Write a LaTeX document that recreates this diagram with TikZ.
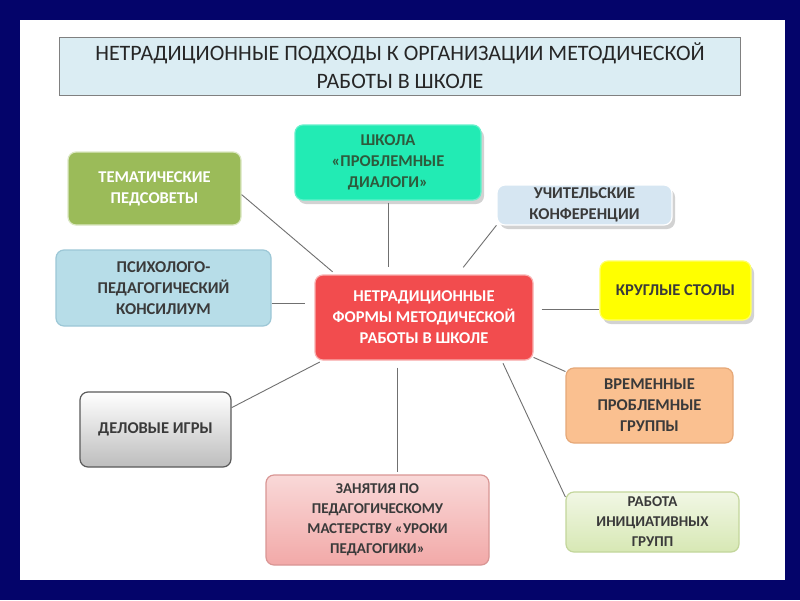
\documentclass[tikz,border=0pt]{standalone}
\usepackage{fontspec}
\setmainfont{Carlito}
\usetikzlibrary{shadows,positioning}
\definecolor{SchoolNavy}{HTML}{04046A}
\definecolor{SchoolInk}{HTML}{3A3A3A}
\definecolor{TitleFill}{HTML}{DBEDF3}
\definecolor{TitleEdge}{HTML}{808080}
\definecolor{CoreRed}{HTML}{F24C4E}
\definecolor{CoreEdge}{HTML}{F9B0B0}
\definecolor{SovetGreen}{HTML}{9BBB59}
\definecolor{SovetEdge}{HTML}{DCE8C4}
\definecolor{KonsBlue}{HTML}{B7DDE8}
\definecolor{KonsEdge}{HTML}{9CC7D6}
\definecolor{DialogTeal}{HTML}{22EBB4}
\definecolor{DialogInk}{HTML}{2E5A3C}
\definecolor{KonfBlue}{HTML}{D6E6F2}
\definecolor{StolYellow}{HTML}{FFFF00}
\definecolor{GruppaPeach}{HTML}{FAC090}
\definecolor{GruppaEdge}{HTML}{E6A878}
\definecolor{IgraGray}{HTML}{BDBDBD}
\definecolor{IgraEdge}{HTML}{5A5A5A}
\definecolor{UrokPink}{HTML}{F2A9A8}
\definecolor{UrokEdge}{HTML}{D99694}
\definecolor{InitGreen}{HTML}{D7E8B4}
\definecolor{InitEdge}{HTML}{C3D69B}
\definecolor{LinkGray}{HTML}{707070}

\begin{document}
\begin{tikzpicture}[x=1pt, y=-1pt,
every node/.style={font=\bfseries\fontsize{16.5}{21}\selectfont, align=center, text=SchoolInk},
formbox/.style={rounded corners=8pt, line width=1.2pt, inner sep=2pt},
smallbox/.style={formbox, font=\bfseries\fontsize{15}{20}\selectfont},
softshadow/.style={drop shadow={opacity=0.35, shadow xshift=3pt, shadow yshift=-4pt}},
link/.style={draw=LinkGray, line width=0.9pt}
]
\fill[SchoolNavy] (0,0) rectangle (800,600);
\fill[white] (20,20) rectangle (785,580);
\node[draw=TitleEdge, fill=TitleFill, line width=0.8pt, minimum width=681pt, minimum height=58pt, font=\fontsize{22}{28}\selectfont, text=black!85] (title) at (400,66) {НЕТРАДИЦИОННЫЕ ПОДХОДЫ К ОРГАНИЗАЦИИ МЕТОДИЧЕСКОЙ\\РАБОТЫ В ШКОЛЕ};
\node[formbox, draw=CoreEdge, fill=CoreRed, text=white, minimum width=218pt, minimum height=85pt] (core) at (424,317.5) {НЕТРАДИЦИОННЫЕ\\ФОРМЫ МЕТОДИЧЕСКОЙ\\РАБОТЫ В ШКОЛЕ};
\node[formbox, draw=SovetEdge, fill=SovetGreen, text=white, minimum width=173pt, minimum height=73pt] (sovet) at (154.5,188.5) {ТЕМАТИЧЕСКИЕ\\ПЕДСОВЕТЫ};
\node[formbox, draw=KonsEdge, fill=KonsBlue, minimum width=215pt, minimum height=76pt] (kons) at (163.5,288) {ПСИХОЛОГО-\\ПЕДАГОГИЧЕСКИЙ\\КОНСИЛИУМ};
\node[formbox, softshadow, draw=DialogTeal!70, fill=DialogTeal, text=DialogInk, minimum width=186pt, minimum height=75pt] (dialog) at (388,162.5) {ШКОЛА\\«ПРОБЛЕМНЫЕ\\ДИАЛОГИ»};
\node[formbox, softshadow, draw=white, fill=KonfBlue, minimum width=175pt, minimum height=40pt] (konf) at (584.5,205) {УЧИТЕЛЬСКИЕ\\КОНФЕРЕНЦИИ};
\node[formbox, softshadow, draw=StolYellow!60, fill=StolYellow, minimum width=151pt, minimum height=59pt] (stol) at (675.5,290.5) {КРУГЛЫЕ СТОЛЫ};
\node[formbox, draw=GruppaEdge, fill=GruppaPeach, minimum width=167pt, minimum height=75pt] (gruppa) at (649.5,405.5) {ВРЕМЕННЫЕ\\ПРОБЛЕМНЫЕ\\ГРУППЫ};
\node[formbox, draw=IgraEdge, top color=white, bottom color=IgraGray, minimum width=151pt, minimum height=75pt] (igra) at (155.5,429.5) {ДЕЛОВЫЕ ИГРЫ};
\node[smallbox, draw=UrokEdge, top color=UrokPink!45, bottom color=UrokPink, minimum width=223pt, minimum height=90pt] (urok) at (377.5,520) {ЗАНЯТИЯ ПО\\ПЕДАГОГИЧЕСКОМУ\\МАСТЕРСТВУ «УРОКИ\\ПЕДАГОГИКИ»};
\node[smallbox, draw=InitEdge, top color=InitGreen!35, bottom color=InitGreen, minimum width=173pt, minimum height=60pt] (init) at (652.5,522) {РАБОТА\\ИНИЦИАТИВНЫХ\\ГРУПП};
\draw[link, shorten >=4pt] (sovet.-4) -- (core.154);
\draw[link, shorten >=9pt] (kons.-8) -- (kons.-8 -| core.west);
\draw[link, shorten <=2pt, shorten >=7pt] (dialog.south) -- (dialog.south |- core.north);
\draw[link, shorten >=9pt] (konf.193) -- (core.52);
\draw[link, shorten <=8pt] (core.4.5) -- (core.4.5 -| stol.west);
\draw[link] (core.-20) -- (gruppa.158.5);
\draw[link, shorten >=3pt] (igra.16) -- (core.203);
\draw[link, shorten <=7pt, shorten >=2pt] (core.238) -- (core.238 |- urok.north);
\draw[link, shorten <=3pt] (core.-29.7) -- (init.164);
\end{tikzpicture}
\end{document}
